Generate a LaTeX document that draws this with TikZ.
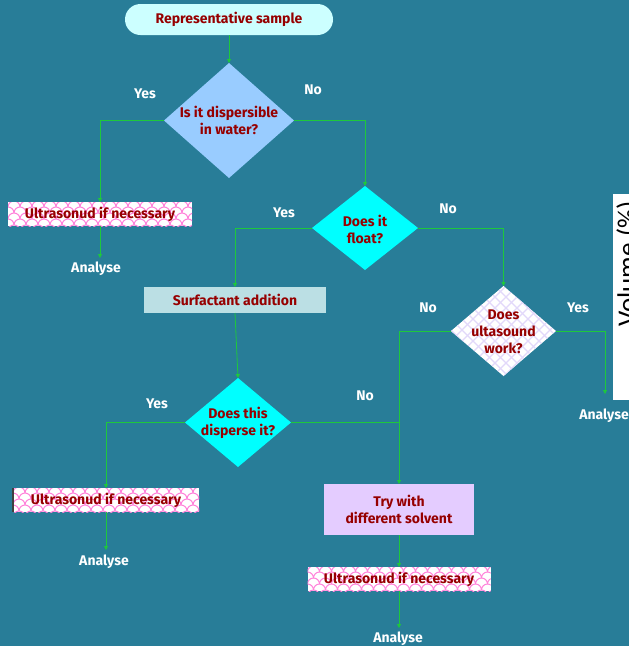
\documentclass[tikz,border=0pt]{standalone}
\usepackage{fontspec}
\setmainfont{Fira Sans}
\newfontfamily\volfont{Carlito}
\usetikzlibrary{shapes.geometric,shapes.misc,arrows.meta,calc}
\definecolor{bg}{RGB}{40,125,152}
\definecolor{txt}{RGB}{150,0,0}
\definecolor{ln}{RGB}{30,200,60}
\definecolor{startfill}{RGB}{204,255,255}
\definecolor{dafill}{RGB}{153,204,255}
\definecolor{cyanfill}{RGB}{0,255,255}
\definecolor{surffill}{RGB}{187,223,228}
\definecolor{tryfill}{RGB}{228,204,255}
\definecolor{scalepink}{RGB}{255,130,218}
\definecolor{lavgrid}{RGB}{226,216,250}
\begin{document}
\begin{tikzpicture}[x=1pt,y=-1pt,
  every node/.style={font=\fontsize{14}{17}\selectfont\bfseries},
  conn/.style={draw=ln, line width=0.8pt},
  arr/.style={conn, -{Triangle[length=4pt,width=4pt]}},
  qtext/.style={text=txt, align=center, inner sep=0pt},
  lbl/.style={text=white, inner sep=0pt},
  diabox/.style={diamond, inner sep=0pt, outer sep=0pt},
  plainbox/.style={rectangle, inner sep=0pt, outer sep=0pt, text=txt, align=center},
  scales/.style={fill=white, path picture={
    \foreach \pr in {0,...,5}{
      \foreach \pc in {0,...,17}{
        \draw[scalepink, line width=1pt]
          ($(path picture bounding box.north west)+({\pc*12+mod(\pr,2)*6-6},{\pr*6-1})$)
          arc[start angle=180,end angle=0,radius=6pt];
      }}}},
  meshfill/.style={fill=white, path picture={
    \foreach \pk in {0,...,20}{
      \draw[lavgrid, line width=1.4pt]
        ($(path picture bounding box.north west)+({\pk*11-110},0)$) -- ++(110,110);
      \draw[lavgrid, line width=1.4pt]
        ($(path picture bounding box.north west)+({\pk*11},0)$) -- ++(-110,110);
    }}}
]
\useasboundingbox (0,0) rectangle (629,646);
\fill[bg] (0,0) rectangle (629,646);

% right-edge panel (cut off)
\begin{scope}
  \clip (0,0) rectangle (629,646);
  \fill[white] (613,194) rectangle (629,400);
  \node[rotate=90, anchor=base west, inner sep=0pt, font=\fontsize{27}{30}\selectfont\volfont] (vol) at (636,327) {Volume (\%)};
\end{scope}

% shapes
\node[rounded rectangle, fill=startfill, minimum width=208pt, minimum height=31pt, inner sep=0pt, text=txt] (start) at (229,19.5) {Representative sample};

\node[diabox, fill=dafill, minimum width=130pt, minimum height=115pt] (d1) at (229,120.5) {};
\node[qtext] (d1t) at (229,120.5) {Is it dispersible\\in water?};

\node[plainbox, scales, minimum width=184pt, minimum height=24pt] (u1) at (100,214) {Ultrasonud if necessary};
\node[lbl] (a1) at (96,269) {Analyse};

\node[diabox, fill=cyanfill, minimum width=106pt, minimum height=84pt] (d2) at (365,228) {};
\node[qtext] (d2t) at (365,229) {Does it\\float?};

\node[plainbox, fill=surffill, minimum width=182pt, minimum height=26pt] (surf) at (235,300) {Surfactant addition};

\node[diabox, fill=cyanfill, minimum width=106pt, minimum height=89pt] (d3) at (238,422.5) {};
\node[qtext] (d3t) at (238,423) {Does this\\disperse it?};

\node[plainbox, scales, minimum width=186pt, minimum height=24pt] (u2) at (106,500) {Ultrasonud if necessary};
\draw[black!75, line width=1.2pt] (u2.north west) -- (u2.south west);
\node[lbl] (a2) at (104,562) {Analyse};

\node[diabox, meshfill, minimum width=105pt, minimum height=90pt] (d4) at (503.5,331) {};
\node[qtext] (d4t) at (503.5,332) {Does\\ultasound\\work?};
\node[lbl] (a3) at (604,416) {Analyse};

\node[plainbox, fill=tryfill, minimum width=150pt, minimum height=51pt] (try) at (399,509.5) {Try with\\different solvent};

\node[plainbox, scales, minimum width=183pt, minimum height=24pt] (u3) at (399,579) {Ultrasonud if necessary};
\node[lbl] (a4) at (398,639) {Analyse};

% branch labels
\node[lbl] (y1) at (145,94) {Yes};
\node[lbl] (n1) at (313,90) {No};
\node[lbl] (y2) at (284,213) {Yes};
\node[lbl] (n2) at (448,209) {No};
\node[lbl] (y3) at (157,404) {Yes};
\node[lbl] (n3) at (365,396) {No};
\node[lbl] (n4) at (428,308) {No};
\node[lbl] (y4) at (578,308) {Yes};

% free ends
\coordinate (e1) at (100,258);
\coordinate (e2) at (106,550);
\coordinate (e3) at (605,394);
\coordinate (e4) at (399,628);
\coordinate (j) at (try.north |- d3.east);

% connectors
\draw[arr] (start.south) -- (d1.north);
\draw[arr] (d1.west) -| (u1.north);
\draw[arr] (u1.south) -- (e1);
\draw[arr] (d1.east) -| (d2.north);
\draw[arr] (d2.west) -| (surf.north);
\draw[arr] (surf.south) -- (d3.north);
\draw[arr] (d3.west) -| (u2.north);
\draw[arr] (u2.south) -- (e2);
\draw[arr] (d2.east) -| (d4.north);
\draw[arr] (d4.west) -| (try.north);
\draw[conn] (d3.east) -- (j);
\draw[arr] (d4.east) -| (e3);
\draw[arr] (try.south) -- (u3.north);
\draw[arr] (u3.south) -- (e4);
\end{tikzpicture}
\end{document}
